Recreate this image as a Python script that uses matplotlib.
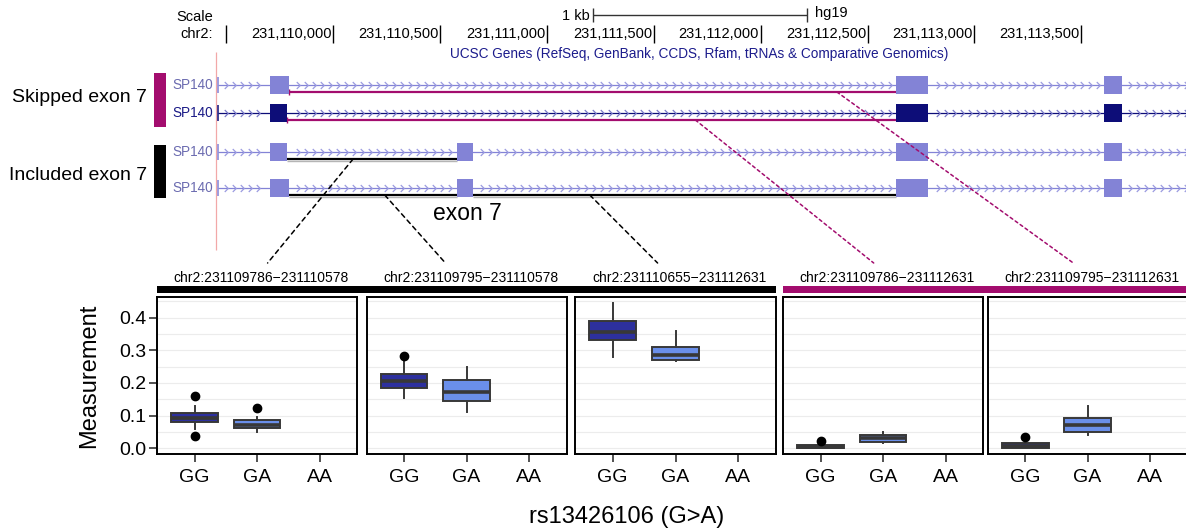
import numpy as np
import matplotlib
matplotlib.use("Agg")
import matplotlib.pyplot as plt
from matplotlib.patches import Rectangle, ConnectionPatch
from matplotlib.path import Path

plt.rcParams['font.family'] = ['Liberation Sans', 'DejaVu Sans']

# ---------------- data ----------------
genotypes = ['GG', 'GA', 'AA']
junction_labels = ['chr2:231109786\u2212231110578', 'chr2:231109795\u2212231110578',
                   'chr2:231110655\u2212231112631', 'chr2:231109786\u2212231112631',
                   'chr2:231109795\u2212231112631']
junction_group = ['included', 'included', 'included', 'skipped', 'skipped']

# box statistics per junction panel (GG genotype)
gg_q1 = [0.079, 0.184, 0.332, 0.000, 0.000]
gg_med = [0.092, 0.207, 0.355, 0.004, 0.007]
gg_q3 = [0.107, 0.227, 0.389, 0.011, 0.0175]
gg_lo = [0.060, 0.155, 0.279, 0.000, 0.000]
gg_hi = [0.130, 0.266, 0.445, 0.014, 0.024]
gg_out = [[0.161, 0.038], [0.283], [], [0.0215], [0.035]]
# GA genotype
ga_q1 = [0.061, 0.146, 0.271, 0.020, 0.050]
ga_med = [0.070, 0.171, 0.287, 0.033, 0.072]
ga_q3 = [0.086, 0.209, 0.310, 0.041, 0.093]
ga_lo = [0.050, 0.112, 0.266, 0.017, 0.040]
ga_hi = [0.096, 0.248, 0.360, 0.050, 0.130]
ga_out = [[0.124], [], [], [], []]

yticks = [0.0, 0.1, 0.2, 0.3, 0.4]
ytick_labels = ['0.0', '0.1', '0.2', '0.3', '0.4']

# genome browser track data (hg19 chr2)
ruler_ticks = [231109500, 231110000, 231110500, 231111000, 231111500,
               231112000, 231112500, 231113000, 231113500]
ruler_labels = ['', '231,110,000', '231,110,500', '231,111,000', '231,111,500',
                '231,112,000', '231,112,500', '231,113,000', '231,113,500']
gene_name = 'SP140'
gene_start = 231109462
track_exons = [
    [(231109705, 231109794), (231112632, 231112783), (231113606, 231113690)],
    [(231109705, 231109785), (231112632, 231112783), (231113606, 231113690)],
    [(231109705, 231109785), (231110579, 231110654), (231112632, 231112783), (231113606, 231113690)],
    [(231109705, 231109794), (231110579, 231110654), (231112632, 231112783), (231113606, 231113690)],
]
track_junctions = [
    [(231109795, 231112631)],
    [(231109786, 231112631)],
    [(231109786, 231110578)],
    [(231109795, 231110578), (231110655, 231112631)],
]
scale_bar_start = 231111216
scale_bar_len = 1000
# dashed connector start positions (genomic) for each panel
connector_start = [231110094, 231110242, 231111201, 231111695, 231112357]
connector_row = [2, 3, 3, 1, 0]

# ---------------- layout / style ----------------
W, H = 1186, 531
fig = plt.figure(figsize=(W / 100, H / 100), dpi=100)

MAG = '#a30d6e'
LIGHT = '#8383d6'
NAVY = '#0d0d78'
GG_FILL = '#2d309e'
GA_FILL = '#6a8fea'
EDGE = '#383838'

# track axes: x = genomic coordinate, y = pixel row
BPPX = 4.677
g_left = 231110000 - 333 * BPPX
g_right = g_left + W * BPPX
TOP_H = 260
ax_t = fig.add_axes([0, 1 - TOP_H / H, 1, TOP_H / H])
ax_t.set_xlim(g_left, g_right)
ax_t.set_ylim(TOP_H, 0)
ax_t.axis('off')


def px(p):
    return g_left + p * BPPX


row_y = [85, 113, 152, 188]
row_line_color = [LIGHT, NAVY, LIGHT, LIGHT]
row_exon_color = [LIGHT, NAVY, LIGHT, LIGHT]
row_text_color = ['#6b6bb0', '#1a1a86', '#6b6bb0', '#6b6bb0']
row_chev_color = ['#9a9ae0', '#7a7ac8', '#9a9ae0', '#9a9ae0']
junc_color = [MAG, MAG, 'black', 'black']

# ruler
ax_t.text(px(213), 17, 'Scale', ha='right', va='center', fontsize=10.5)
ax_t.text(px(213), 34, 'chr2:', ha='right', va='center', fontsize=10.5)
ax_t.vlines(ruler_ticks, 25, 43, color='black', lw=1)
for t, lab in zip(ruler_ticks, ruler_labels):
    ax_t.text(t - 1.5 * BPPX, 34.5, lab, ha='right', va='center', fontsize=10.5)
ax_t.hlines(15, scale_bar_start, scale_bar_start + scale_bar_len, color='#333333', lw=1)
ax_t.vlines([scale_bar_start, scale_bar_start + scale_bar_len], 8, 22, color='#333333', lw=1)
ax_t.text(scale_bar_start - 3 * BPPX, 15.5, '1 kb', ha='right', va='center', fontsize=10.5)
ax_t.text(scale_bar_start + scale_bar_len + 8 * BPPX, 13, 'hg19', ha='left', va='center', fontsize=10.5)
ax_t.text(px(699), 54, 'UCSC Genes (RefSeq, GenBank, CCDS, Rfam, tRNAs & Comparative Genomics)',
          ha='center', va='center', fontsize=9.8, color='#1c1c8c')
ax_t.vlines(px(215.5), 52, 250, color='#f2a8a8', lw=0.9)

chev = Path([(-0.5, 1), (0.5, 0), (-0.5, -1)], [Path.MOVETO, Path.LINETO, Path.LINETO])
for i, y in enumerate(row_y):
    ax_t.hlines(y, gene_start, g_right, color=row_line_color[i], lw=0.9, zorder=2)
    ax_t.vlines(gene_start, y - 8, y + 8, color=row_line_color[i], lw=1.1, zorder=2)
    xs = np.arange(gene_start + 8 * BPPX, g_right, 8 * BPPX)
    keep = np.ones(len(xs), bool)
    for s, e in track_exons[i]:
        keep &= ~((xs > s - 4 * BPPX) & (xs < e + 5 * BPPX))
    ax_t.plot(xs[keep], np.full(keep.sum(), y), ls='none', marker=chev, ms=5,
              mfc='none', mec=row_chev_color[i], mew=0.9, zorder=3)
    for s, e in track_junctions[i]:
        if junc_color[i] == 'black':
            ax_t.hlines(y + 8.5, s, e, color='#b5b5b5', lw=1.0, zorder=3)
        ax_t.hlines(y + 7, s, e, color=junc_color[i], lw=1.6, zorder=4)
        if junc_color[i] == MAG:
            ax_t.vlines(s, y + 4, y + 10, color=MAG, lw=1.0, zorder=4)
    for s, e in track_exons[i]:
        ax_t.add_patch(Rectangle((s, y - 9), e - s, 18, facecolor=row_exon_color[i],
                                 edgecolor='none', zorder=5))
    ax_t.text(gene_start - 5 * BPPX, y, gene_name, ha='right', va='center',
              fontsize=9.8, color=row_text_color[i])

# group labels and bars
ax_t.text(px(147), 97, 'Skipped exon 7', ha='right', va='center', fontsize=14)
ax_t.text(px(147), 175, 'Included exon 7', ha='right', va='center', fontsize=14)
ax_t.add_patch(Rectangle((px(154), 73), 12 * BPPX, 54, facecolor=MAG, edgecolor='none'))
ax_t.add_patch(Rectangle((px(154), 144.5), 12 * BPPX, 53, facecolor='black', edgecolor='none'))
ax_t.text(px(467), 214, 'exon 7', ha='center', va='center', fontsize=16.5)

# ---------------- box plot panels ----------------
panel_left = [157, 366.5, 575, 783, 988]
panel_w = [200, 200, 201, 200, 199]
p_top, p_bot = 296.7, 454.3
ph = p_bot - p_top
axes = []
for k in range(5):
    ax = fig.add_axes([panel_left[k] / W, 1 - p_bot / H, panel_w[k] / W, ph / H])
    axes.append(ax)
    stats = [
        dict(med=gg_med[k], q1=gg_q1[k], q3=gg_q3[k], whislo=gg_lo[k], whishi=gg_hi[k], fliers=gg_out[k]),
        dict(med=ga_med[k], q1=ga_q1[k], q3=ga_q3[k], whislo=ga_lo[k], whishi=ga_hi[k], fliers=ga_out[k]),
    ]
    bp = ax.bxp(stats, positions=[1, 2], widths=0.75, patch_artist=True, showcaps=False,
                boxprops=dict(edgecolor=EDGE, linewidth=1.4),
                medianprops=dict(color=EDGE, linewidth=2.6, solid_capstyle='butt'),
                whiskerprops=dict(color=EDGE, linewidth=1.4),
                flierprops=dict(marker='o', markerfacecolor='black', markeredgecolor='black',
                                markersize=6),
                manage_ticks=False)
    for patch, fc in zip(bp['boxes'], [GG_FILL, GA_FILL]):
        patch.set_facecolor(fc)
        patch.set_zorder(3)
    for ln in bp['medians'] + bp['whiskers'] + bp['fliers']:
        ln.set_zorder(4)
    ax.set_xlim(0.4, 3.6)
    ax.set_ylim(-0.0184, 0.4643)
    ax.set_xticks([1, 2, 3])
    ax.set_xticklabels(genotypes, fontsize=14)
    ax.set_yticks(yticks)
    ax.set_yticks([0.05, 0.15, 0.25, 0.35, 0.45], minor=True)
    ax.grid(which='both', axis='y', color='#ececec', lw=0.8, zorder=0)
    ax.set_axisbelow(True)
    for sp in ax.spines.values():
        sp.set_linewidth(1.4)
        sp.set_color('black')
    ax.tick_params(axis='x', length=5.5, width=1.1, color='#222222', pad=5)
    ax.tick_params(axis='y', which='minor', length=0)
    if k == 0:
        ax.set_yticklabels(ytick_labels, fontsize=14)
        ax.tick_params(axis='y', which='major', length=5.5, width=1.1, color='#222222', pad=2)
        ax.set_ylabel('Measurement', fontsize=17)
        ax.yaxis.set_label_coords((100 - panel_left[0]) / panel_w[0], 0.5)
    else:
        ax.tick_params(axis='y', which='major', length=0, labelleft=False)
    ax.text(0.5 + 4 / panel_w[k], (p_bot - 278) / ph, junction_labels[k], transform=ax.transAxes,
            ha='center', va='center', fontsize=10)

# strip bars
for grp, col in [('included', 'black'), ('skipped', MAG)]:
    idx = [i for i, g in enumerate(junction_group) if g == grp]
    x0 = panel_left[idx[0]]
    x1 = panel_left[idx[-1]] + panel_w[idx[-1]]
    fig.add_artist(Rectangle((x0 / W, 1 - 293.3 / H), (x1 - x0) / W, 7.3 / H,
                             transform=fig.transFigure, facecolor=col, edgecolor='none'))

# dashed connectors from track to panels
conn_end_x = [267.6, 445.4, 657.6, 873.7, 1073.3]
for k in range(5):
    r = connector_row[k]
    col = 'black' if junction_group[k] == 'included' else MAG
    ls = (0, (3, 2.5)) if col == 'black' else (0, (2, 2))
    con = ConnectionPatch(xyA=(connector_start[k], row_y[r] + 7), coordsA=ax_t.transData,
                          xyB=((conn_end_x[k] - panel_left[k]) / panel_w[k], (p_bot - 263) / ph),
                          coordsB=axes[k].transAxes, color=col, lw=1.1, linestyle=ls)
    fig.add_artist(con)

fig.text(627 / W, 1 - 517 / H, 'rs13426106 (G>A)', ha='center', va='center', fontsize=17)

fig.savefig('out.png', dpi=100)
